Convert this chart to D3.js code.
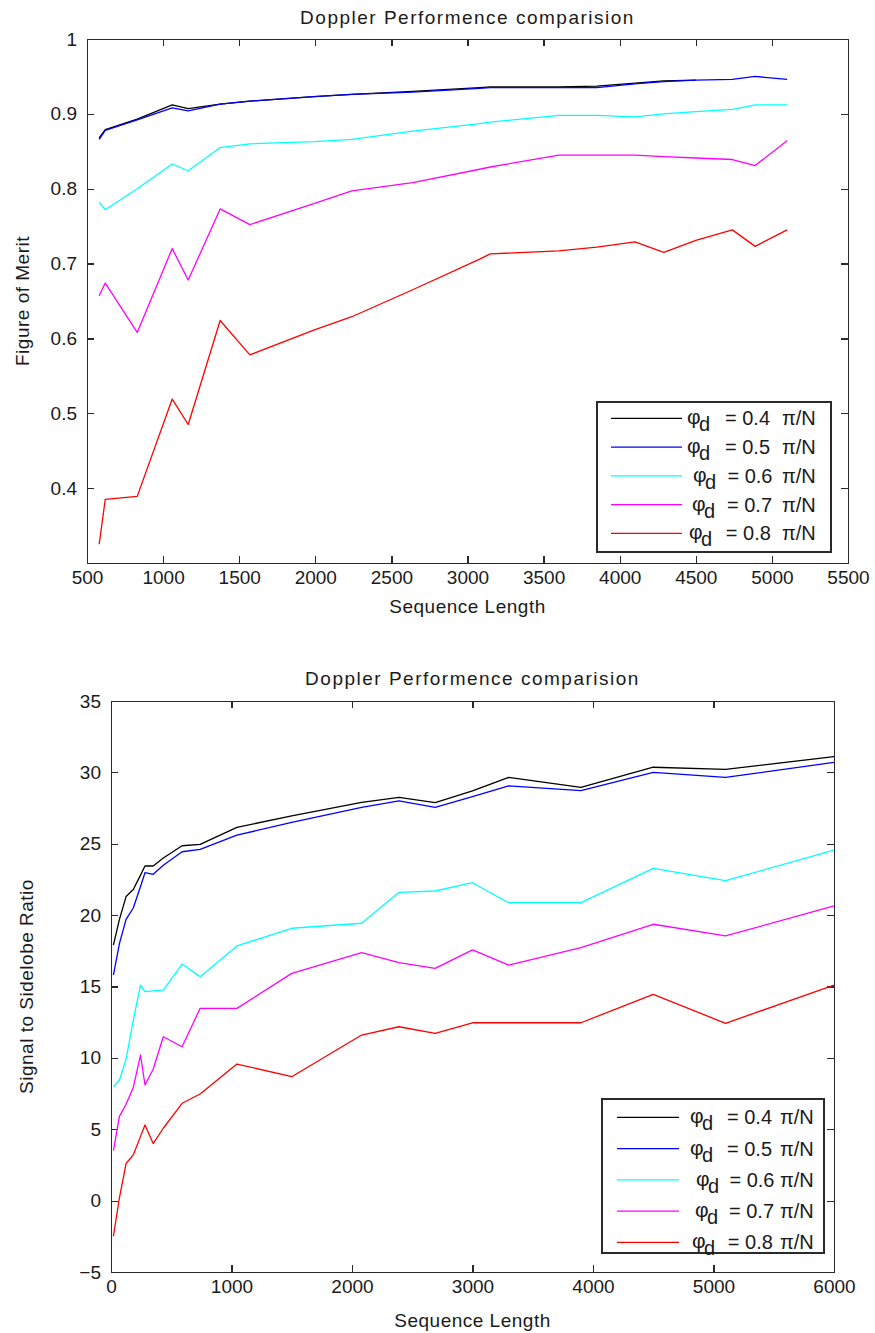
<!DOCTYPE html>
<html><head><meta charset="utf-8">
<script src="https://cdn.jsdelivr.net/npm/d3@7"></script>
<style>
body{margin:0;background:#fff}
svg{display:block}
text{font-family:"Liberation Sans",Arial,sans-serif;fill:#1a1a1a}
</style>
</head><body>
<svg id="c" width="875" height="1333"></svg>
<script>
// ---------- Data: Figure of Merit (top) ----------
const fomX  = [580, 620, 830, 1060, 1165, 1375, 1570, 1990, 2240, 2640, 3080, 3150, 3600, 3850, 4100, 4290, 4500, 4740, 4890, 5100];
const fom04 = [0.868,0.879,0.893,0.912,0.907,0.913,0.917,0.923,0.926,0.930,0.935,0.936,0.936,0.937,0.941,0.944,0.945,null,null,null];
const fom05 = [0.866,0.878,0.892,0.908,0.904,0.913,0.917,0.923,0.926,0.929,0.934,0.935,0.935,0.935,0.940,0.943,0.945,0.946,0.950,0.946];
const fom06 = [0.782,0.772,0.800,0.833,0.824,0.855,0.860,0.863,0.866,0.877,0.887,0.889,0.898,0.898,0.896,0.900,0.903,0.906,0.912,0.912];
const fom07 = [0.657,0.674,0.608,0.720,0.678,0.773,0.752,0.780,0.797,0.808,0.826,0.829,0.845,0.845,0.845,0.843,0.841,0.839,0.831,0.864];
const fom08 = [0.325,0.385,0.389,0.519,0.485,0.624,0.578,0.611,0.629,0.665,0.706,0.713,0.717,0.722,0.729,0.715,0.731,0.745,0.723,0.745];
const fomXTicks = [500,1000,1500,2000,2500,3000,3500,4000,4500,5000,5500];
const fomYTicks = [0.4,0.5,0.6,0.7,0.8,0.9,1];

// ---------- Data: Signal to Sidelobe Ratio (bottom) ----------
const ssrX  = [20, 70, 125, 185, 245, 282, 350, 434, 590, 740, 1045, 1500, 2080, 2390, 2690, 3000, 3300, 3900, 4500, 5100, 6000];
const ssr04 = [17.9,19.7,21.3,21.8,22.8,23.44,23.44,24.0,24.86,24.96,26.15,26.95,27.9,28.25,27.88,28.7,29.65,28.95,30.36,30.21,31.1];
const ssr05 = [15.8,18.0,19.7,20.5,22.0,22.97,22.86,23.5,24.44,24.6,25.6,26.5,27.55,28.0,27.55,28.3,29.05,28.72,30.0,29.65,30.7];
const ssr06 = [7.98,8.45,9.9,12.65,15.1,14.64,14.7,14.75,16.57,15.69,17.84,19.08,19.43,21.6,21.69,22.27,20.87,20.87,23.28,22.41,24.56];
const ssr07 = [3.5,5.9,6.75,7.93,10.2,8.1,9.2,11.48,10.78,13.47,13.47,15.92,17.37,16.67,16.27,17.56,16.5,17.72,19.36,18.54,20.64];
const ssr08 = [-2.48,0.2,2.6,3.2,4.5,5.3,4.0,5.07,6.82,7.47,9.57,8.68,11.6,12.18,11.72,12.46,12.46,12.46,14.45,12.42,15.1];
const ssrXTicks = [0,1000,2000,3000,4000,5000,6000];
const ssrYTicks = [-5,0,5,10,15,20,25,30,35];

const phiValues = ["0.4","0.5","0.6","0.7","0.8"];
const titleText = "Doppler Performence comparision";
const xLabelText = "Sequence Length";

// ---------- Styles ----------
const seriesColors = ["#000000","#0000ff","#00ffff","#ff00ff","#ff0000"];
const axisColor = "#2a2a2a";
const FS = 19;

const svg = d3.select("#c");

function drawChart(cfg) {
  const x = d3.scaleLinear().domain(cfg.xDomain).range([cfg.x0, cfg.x1]);
  const y = d3.scaleLinear().domain(cfg.yDomain).range([cfg.y1, cfg.y0]);
  const g = svg.append("g");

  const styleAxis = sel => {
    sel.selectAll("path,line").attr("stroke", axisColor).attr("stroke-width", 1.2).attr("shape-rendering","crispEdges");
    sel.selectAll("text").attr("font-size", FS).attr("fill","#1a1a1a").attr("font-family",'"Liberation Sans",Arial,sans-serif');
  };

  g.append("g").attr("transform", `translate(0,${cfg.y1})`)
    .call(d3.axisBottom(x).tickValues(cfg.xTicks).tickSizeInner(-7).tickSizeOuter(0).tickPadding(8).tickFormat(d3.format("")))
    .call(styleAxis);
  g.append("g").attr("transform", `translate(0,${cfg.y0})`)
    .call(d3.axisTop(x).tickValues(cfg.xTicks).tickSizeInner(-7).tickSizeOuter(0).tickFormat(""))
    .call(styleAxis);
  g.append("g").attr("transform", `translate(${cfg.x0},0)`)
    .call(d3.axisLeft(y).tickValues(cfg.yTicks).tickSizeInner(-7).tickSizeOuter(0).tickPadding(10).tickFormat(d3.format("")))
    .call(styleAxis);
  g.append("g").attr("transform", `translate(${cfg.x1},0)`)
    .call(d3.axisRight(y).tickValues(cfg.yTicks).tickSizeInner(-7).tickSizeOuter(0).tickFormat(""))
    .call(styleAxis);

  const line = d3.line()
    .defined(d => d[1] != null)
    .x(d => x(d[0])).y(d => y(d[1]));
  cfg.series.forEach((s, i) => {
    const pts = cfg.xs.map((xv, k) => [xv, s[k]]);
    g.append("path").attr("d", line(pts))
      .attr("fill","none").attr("stroke", seriesColors[i]).attr("stroke-width", 1.3)
      .attr("stroke-linejoin","round");
  });

  // title
  g.append("text").attr("x", (cfg.x0+cfg.x1)/2).attr("y", cfg.titleY)
    .attr("text-anchor","middle").attr("font-size", FS).attr("letter-spacing", 1.5).text(titleText);
  // x label
  g.append("text").attr("x", (cfg.x0+cfg.x1)/2).attr("y", cfg.xLabelY)
    .attr("text-anchor","middle").attr("font-size", FS).attr("letter-spacing", 0.5).text(xLabelText);
  // y label
  g.append("text").attr("transform", `translate(${cfg.yLabelX},${(cfg.y0+cfg.y1)/2}) rotate(-90)`)
    .attr("text-anchor","middle").attr("font-size", FS).attr("letter-spacing", 0.5).text(cfg.yLabel);

  // legend
  const L = cfg.legend;
  const lg = g.append("g");
  lg.append("rect").attr("x", L.x).attr("y", L.y).attr("width", L.w).attr("height", L.h)
    .attr("fill","#fff").attr("stroke", axisColor).attr("stroke-width",1.2).attr("shape-rendering","crispEdges");
  phiValues.forEach((p, i) => {
    const ry = L.row0 + i*L.step;
    lg.append("line").attr("x1", L.x + L.lx0).attr("x2", L.x + L.lx1).attr("y1", ry).attr("y2", ry)
      .attr("stroke", seriesColors[i]).attr("stroke-width", 1.3);
    const sh = L.shift[i];
    lg.append("text").attr("x", L.x + L.phiX + sh).attr("y", ry + 6).attr("font-size", FS+2).text("φ");
    lg.append("text").attr("x", L.x + L.phiX + sh + 12).attr("y", ry + 13).attr("font-size", FS+1).text("d");
    lg.append("text").attr("x", L.x + L.eqX + sh*0.4).attr("y", ry + 7).attr("font-size", FS+1).text("= " + p);
    lg.append("text").attr("x", L.x + L.piX).attr("y", ry + 7).attr("font-size", FS+1).text("π/N");
  });
}

drawChart({
  x0: 87, x1: 848, y0: 39, y1: 563,
  xDomain: [500, 5500], yDomain: [0.3, 1],
  xTicks: fomXTicks, yTicks: fomYTicks,
  xs: fomX, series: [fom04, fom05, fom06, fom07, fom08],
  titleY: 24, xLabelY: 613, yLabelX: 29, yLabel: "Figure of Merit",
  legend: {x: 597, y: 402, w: 234, h: 150, row0: 418.3, step: 28.75, lx0: 14, lx1: 85,
           phiX: 90, eqX: 128, piX: 185, shift: [0,0,6,5,2]}
});

drawChart({
  x0: 111, x1: 834, y0: 701, y1: 1272,
  xDomain: [0, 6000], yDomain: [-5, 35],
  xTicks: ssrXTicks, yTicks: ssrYTicks,
  xs: ssrX, series: [ssr04, ssr05, ssr06, ssr07, ssr08],
  titleY: 685, xLabelY: 1327, yLabelX: 33, yLabel: "Signal to Sidelobe Ratio",
  legend: {x: 602, y: 1099, w: 222, h: 154, row0: 1117.3, step: 31.25, lx0: 15, lx1: 77,
           phiX: 88, eqX: 125, piX: 178, shift: [0,0,6,5,2]}
});
</script>
</body></html>
